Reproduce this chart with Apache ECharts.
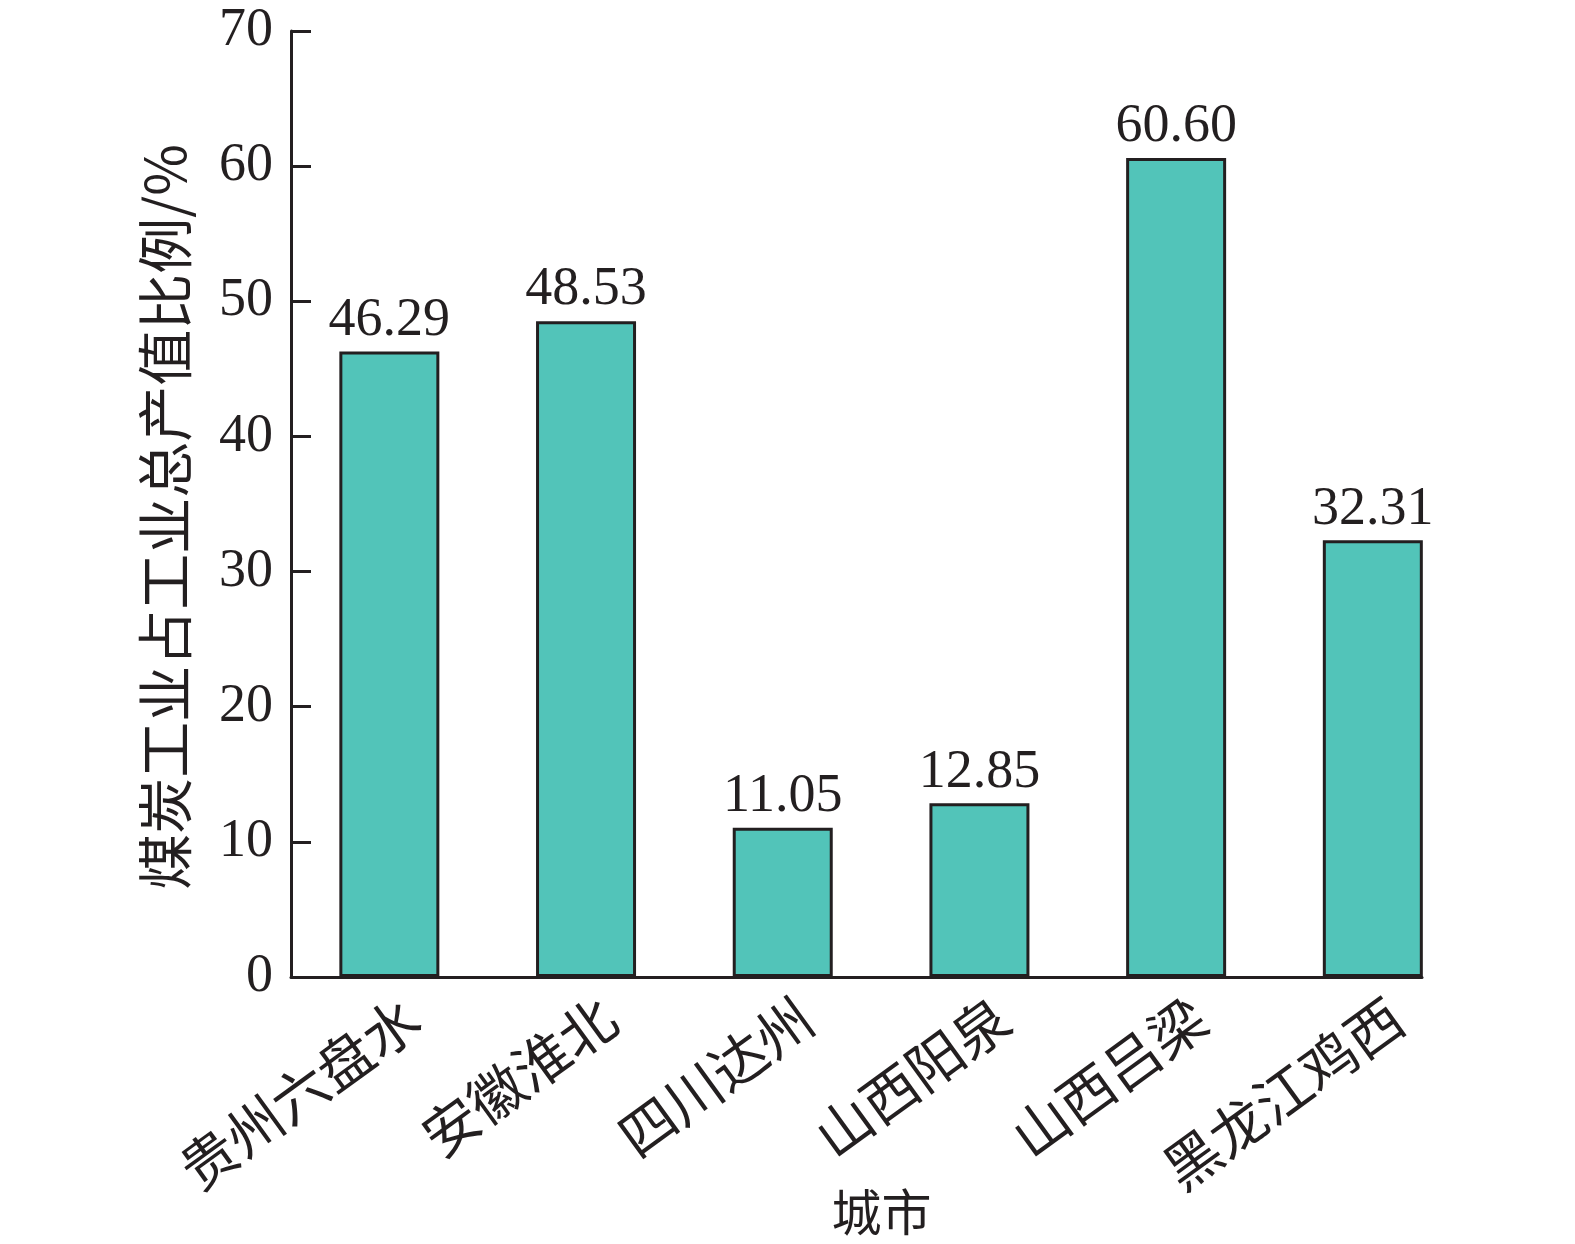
<!DOCTYPE html>
<html>
<head>
<meta charset="utf-8">
<script src="https://cdn.jsdelivr.net/npm/echarts@6/dist/echarts.min.js"></script>
<style>
  html, body { margin: 0; padding: 0; background: #fff; }
  #chart { width: 1575px; height: 1244px; }
</style>
</head>
<body>
<div id="chart"></div>
<script>
const categories = ['贵州六盘水', '安徽淮北', '四川达州', '山西阳泉', '山西吕梁', '黑龙江鸡西'];
const shares = [46.29, 48.53, 11.05, 12.85, 60.60, 32.31];
const yTicks = [0, 10, 20, 30, 40, 50, 60, 70];
const xAxisTitle = '城市';
const yAxisTitle = '煤炭工业占工业总产值比例/%';

const ink = '#231F20';
const latin = '"Liberation Serif", "Times New Roman", "Noto Sans CJK SC", serif';
const cjk = '"Noto Sans CJK SC", "Liberation Serif", serif';

const labelShift = 0.12;
const seriesData = categories.map((c, i) => [i, shares[i]]);

const chart = echarts.init(document.getElementById('chart'), null, { renderer: 'canvas' });
chart.setOption({
  backgroundColor: '#ffffff',
  animation: false,
  grid: { left: 291, right: 153, top: 31, bottom: 267, containLabel: false, outerBoundsMode: 'none' },
  xAxis: {
    type: 'value',
    min: -0.5,
    max: categories.length - 0.75,
    name: xAxisTitle,
    nameLocation: 'middle',
    nameGap: 210,
    nameMoveOverlap: false,
    nameTextStyle: { fontFamily: cjk, fontSize: 50, color: ink, padding: [0, 0, 0, 50], verticalAlign: 'top' },
    axisLine: { show: true, onZero: false, lineStyle: { color: ink, width: 3 } },
    axisTick: {
      show: true, inside: true, length: 14,
      customValues: categories.map((c, i) => i),
      lineStyle: { color: ink, width: 3 }
    },
    axisLabel: {
      show: true,
      customValues: categories.map((c, i) => i + labelShift),
      rotate: 36,
      margin: 34,
      fontFamily: cjk,
      fontSize: 56,
      color: ink,
      formatter: v => categories[Math.round(v)] || ''
    },
    splitLine: { show: false }
  },
  yAxis: {
    type: 'value',
    min: yTicks[0],
    max: yTicks[yTicks.length - 1],
    interval: 10,
    name: yAxisTitle,
    nameLocation: 'middle',
    nameGap: 98,
    nameRotate: 90,
    nameTextStyle: { fontFamily: cjk, fontSize: 56, color: ink, padding: [0, 26, 0, 0] },
    axisLine: { show: true, onZero: false, lineStyle: { color: ink, width: 3 } },
    axisTick: { show: true, inside: true, length: 20, lineStyle: { color: ink, width: 3 } },
    axisLabel: { fontFamily: latin, fontSize: 54, color: ink, margin: 18 },
    splitLine: { show: false }
  },
  series: [{
    type: 'bar',
    data: seriesData,
    barWidth: 100,
    itemStyle: { color: '#52C4B9', borderColor: ink, borderWidth: 3 },
    label: {
      show: true,
      position: 'top',
      distance: 4,
      fontFamily: latin,
      fontSize: 54,
      color: ink,
      formatter: p => p.value[1].toFixed(2)
    }
  }]
});
</script>
</body>
</html>
